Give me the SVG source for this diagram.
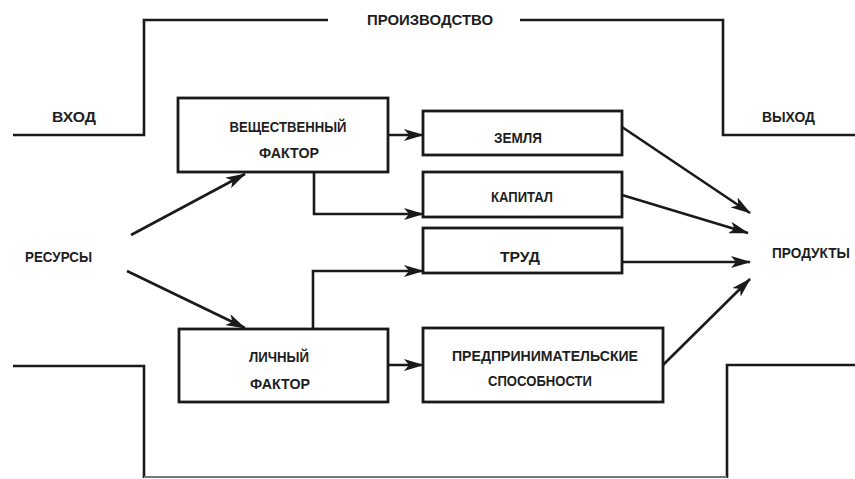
<svg xmlns="http://www.w3.org/2000/svg" width="855" height="479" viewBox="0 0 855 479">
<defs>
<style>
.ln{fill:none;stroke:#1a1a1a;stroke-width:2.6;stroke-linejoin:miter}
.lb{fill:none;stroke:#777;stroke-width:2}
.box{fill:#fff;stroke:#1a1a1a;stroke-width:2.8}
.t{font-family:"Liberation Sans",Arial,sans-serif;font-weight:bold;font-size:14.5px;fill:#1e1e1e;text-anchor:middle}
.tl{font-family:"Liberation Sans",Arial,sans-serif;font-weight:bold;font-size:14.5px;fill:#1e1e1e}
.ar{fill:none;stroke:#1a1a1a;stroke-width:2.6;marker-end:url(#ah)}
</style>
<marker id="ah" viewBox="0 0 20 12" refX="19" refY="6" markerWidth="20" markerHeight="12" markerUnits="userSpaceOnUse" orient="auto">
<path d="M0,0 L20,6 L0,12 L5,6 z" fill="#1a1a1a"/>
</marker>
</defs>
<rect width="855" height="479" fill="#fff"/>
<g id="frame">
<polyline class="ln" points="13,135 144,135 144,20 328,20"/>
<polyline class="ln" points="520,20 723,20 723,135 855,135"/>
<polyline class="ln" points="13,366 144,366 144,478"/>
<polyline class="ln" points="727,478 727,365 855,365"/>
<line class="lb" x1="144" y1="477" x2="727" y2="477"/>
<text class="t" x="430" y="25" textLength="126" lengthAdjust="spacingAndGlyphs">ПРОИЗВОДСТВО</text>
<text class="tl" x="52" y="122" textLength="44" lengthAdjust="spacingAndGlyphs">ВХОД</text>
<text class="tl" x="762" y="122" textLength="53" lengthAdjust="spacingAndGlyphs">ВЫХОД</text>
</g>
<g id="resources">
<text class="tl" x="25" y="262" textLength="67" lengthAdjust="spacingAndGlyphs">РЕСУРСЫ</text>
</g>
<g id="products">
<text class="tl" x="772" y="258" textLength="78" lengthAdjust="spacingAndGlyphs">ПРОДУКТЫ</text>
</g>
<g id="material">
<rect class="box" x="178" y="98" width="210" height="74"/>
<text class="t" x="288" y="132" textLength="117" lengthAdjust="spacingAndGlyphs">ВЕЩЕСТВЕННЫЙ</text>
<text class="t" x="289" y="158" textLength="60" lengthAdjust="spacingAndGlyphs">ФАКТОР</text>
</g>
<g id="personal">
<rect class="box" x="179" y="329" width="209" height="73"/>
<text class="t" x="279" y="362" textLength="60" lengthAdjust="spacingAndGlyphs">ЛИЧНЫЙ</text>
<text class="t" x="280" y="389" textLength="60" lengthAdjust="spacingAndGlyphs">ФАКТОР</text>
</g>
<g id="land">
<rect class="box" x="423" y="111" width="199" height="44"/>
<text class="t" x="518" y="143" textLength="48" lengthAdjust="spacingAndGlyphs">ЗЕМЛЯ</text>
</g>
<g id="capital">
<rect class="box" x="423" y="172" width="199" height="45"/>
<text class="t" x="522" y="202" textLength="62" lengthAdjust="spacingAndGlyphs">КАПИТАЛ</text>
</g>
<g id="labour">
<rect class="box" x="423" y="228" width="199" height="45"/>
<text class="t" x="520" y="262" textLength="40" lengthAdjust="spacingAndGlyphs">ТРУД</text>
</g>
<g id="entrepreneur">
<rect class="box" x="423" y="328" width="240" height="74"/>
<text class="t" x="545" y="361" textLength="186" lengthAdjust="spacingAndGlyphs">ПРЕДПРИНИМАТЕЛЬСКИЕ</text>
<text class="t" x="540" y="386" textLength="104" lengthAdjust="spacingAndGlyphs">СПОСОБНОСТИ</text>
</g>
<g id="connectors">
<line class="ar" x1="131" y1="235" x2="245" y2="174"/>
<line class="ar" x1="127" y1="271" x2="245" y2="328"/>
<line class="ar" x1="388" y1="135" x2="423" y2="135"/>
<polyline class="ar" points="314,172 314,214 423,214"/>
<polyline class="ar" points="313,329 313,271 423,271"/>
<line class="ar" x1="388" y1="365" x2="423" y2="365"/>
<line class="ar" x1="622" y1="127" x2="750" y2="213"/>
<line class="ar" x1="622" y1="195" x2="748" y2="233"/>
<line class="ar" x1="622" y1="262" x2="750" y2="262"/>
<line class="ar" x1="663" y1="365" x2="750" y2="279"/>
</g>
</svg>
